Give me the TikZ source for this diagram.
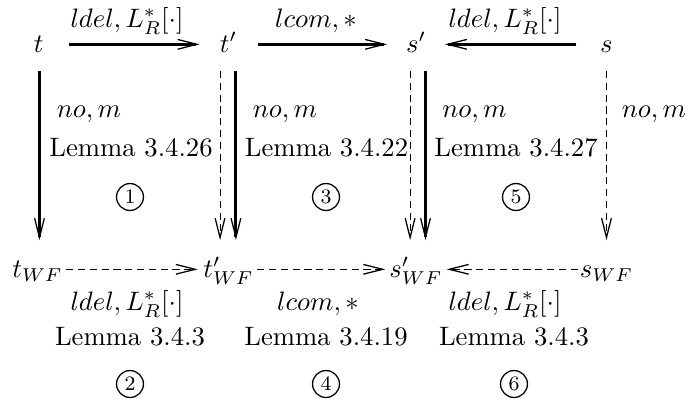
\documentclass[tikz,border=0pt]{standalone}
\usepackage{fix-cm}
\usetikzlibrary{arrows.meta}
\begin{document}
\begin{tikzpicture}[x=0.39pt, y=-0.39pt, font=\fontsize{10.4}{12.5}\selectfont,
  >={Straight Barb[length=7.5pt,width=3.8pt,line width=0.5pt]},
  term/.style={inner sep=0pt, text height=8pt, text depth=2pt, anchor=base},
  lab/.style={inner sep=0pt, anchor=base},
  num/.style={draw, circle, inner sep=0pt, minimum size=10.5pt, line width=0.5pt, font=\footnotesize},
  mainarr/.style={->, line width=1.2pt},
  dasharr/.style={->, line width=0.4pt, dash pattern=on 2.8pt off 1.8pt},
  vert/.style={shorten <=10.4pt, shorten >=11.4pt},
  toprow/.style={shorten <=11.7pt, shorten >=11.3pt},
  botrow/.style={shorten <=11.2pt, shorten >=12pt}]
  \useasboundingbox (0,0) rectangle (689,401);

  \node[term] (t) at (38.7,52) {$t$};
  \node[term] (tp) at (228.5,52) {$t'$};
  \node[term] (sp) at (416,52) {$s'$};
  \node[term] (s) at (606.5,52) {$s$};
  \node[term] (twf) at (37.5,277) {$t_{WF}$};
  \node[term] (tpwf) at (228.5,277) {$t'_{WF}$};
  \node[term] (spwf) at (416,277) {$s'_{WF}$};
  \node[term] (swf) at (606.5,277) {$s_{WF}$};

  \draw[mainarr, toprow] (t.center) -- (tp.center);
  \draw[mainarr, toprow] (tp.center) -- (sp.center);
  \draw[mainarr, toprow] (s.center) -- (sp.center);
  \draw[dasharr, botrow] (twf.center) -- (tpwf.center);
  \draw[dasharr, botrow] (tpwf.center) -- (spwf.center);
  \draw[dasharr, botrow] (swf.center) -- (spwf.center);

  \draw[mainarr, vert] ([xshift=0.3pt]t.center) -- ([xshift=0.3pt]t.center |- twf.center);
  \draw[dasharr, vert] ([xshift=-3.3pt]tp.center) -- ([xshift=-3.3pt]tpwf.center);
  \draw[mainarr, vert] ([xshift=2.9pt]tp.center) -- ([xshift=2.9pt]tpwf.center);
  \draw[dasharr, vert] ([xshift=-2.3pt]sp.center) -- ([xshift=-2.3pt]spwf.center);
  \draw[mainarr, vert] ([xshift=3.7pt]sp.center) -- ([xshift=3.7pt]spwf.center);
  \draw[dasharr, vert] (s.center) -- (swf.center);

  \node[lab] (top1) at (127,27) {$ldel, L_R^*[\cdot]$};
  \node[lab] (top2) at (316,27) {$lcom, *$};
  \node[lab] (top3) at (505,27) {$ldel, L_R^*[\cdot]$};

  \node[lab] (nm1) at (89,117) {$no, m$};
  \node[lab] (nm2) at (285,117) {$no, m$};
  \node[lab] (nm3) at (474.5,117) {$no, m$};
  \node[lab] (nm4) at (654,117) {$no, m$};

  \node[lab] (lem1) at (131,156) {Lemma 3.4.26};
  \node[lab] (lem3) at (326.5,156) {Lemma 3.4.22};
  \node[lab] (lem5) at (516,156) {Lemma 3.4.27};

  \node[num] (c1) at (130,197) {1};
  \node[num] (c3) at (326,197) {3};
  \node[num] (c5) at (516,197) {5};

  \node[lab] (bot1) at (127,310) {$ldel, L_R^*[\cdot]$};
  \node[lab] (bot2) at (318,310) {$lcom, *$};
  \node[lab] (bot3) at (505,310) {$ldel, L_R^*[\cdot]$};

  \node[lab] (lem2) at (130,345) {Lemma 3.4.3};
  \node[lab] (lem4) at (326,345) {Lemma 3.4.19};
  \node[lab] (lem6) at (514,345) {Lemma 3.4.3};

  \node[num] (c2) at (130,384) {2};
  \node[num] (c4) at (326,384) {4};
  \node[num] (c6) at (514,384) {6};
\end{tikzpicture}
\end{document}
